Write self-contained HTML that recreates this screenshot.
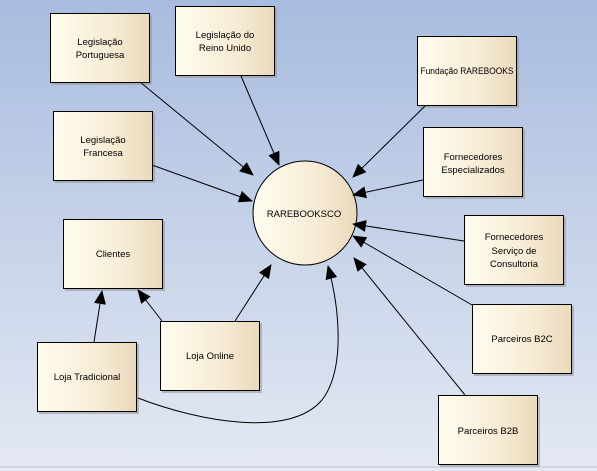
<!DOCTYPE html>
<html><head><style>
html,body{margin:0;padding:0;}
body{width:597px;height:471px;overflow:hidden;}
svg{display:block;}
text{font-family:"Liberation Sans",sans-serif;font-size:9.5px;fill:#000;text-anchor:middle;}
</style></head><body>
<svg width="597" height="471" viewBox="0 0 597 471" xmlns="http://www.w3.org/2000/svg">
<defs>
<linearGradient id="bg" x1="0" y1="0" x2="0" y2="1">
<stop offset="0" stop-color="#a8bcdf"/><stop offset="1" stop-color="#e4e9f3"/>
</linearGradient>
<linearGradient id="bx" x1="0" y1="0" x2="1" y2="0">
<stop offset="0" stop-color="#fffcee"/><stop offset="0.6" stop-color="#f7ecd6"/><stop offset="1" stop-color="#ead9bb"/>
</linearGradient>
<marker id="ar" markerWidth="14" markerHeight="12" refX="13" refY="6" orient="auto" markerUnits="userSpaceOnUse">
<path d="M0,0 L14,6 L0,12 Z" fill="#000"/>
</marker>
</defs>
<rect width="597" height="471" fill="url(#bg)"/>
<line x1="0" y1="467" x2="597" y2="467" stroke="#b8c4dc"/>
<g fill="#9a9a9a" opacity="0.6">
<rect x="52" y="15" width="100" height="70"/><rect x="177" y="8" width="100" height="70"/>
<rect x="55" y="113" width="100" height="70"/><rect x="65" y="221" width="100" height="70"/>
<rect x="419" y="38" width="100" height="70"/><rect x="425" y="129" width="100" height="70"/>
<rect x="466" y="217" width="100" height="70"/><rect x="474" y="306" width="100" height="70"/>
<rect x="440" y="397" width="100" height="70"/><rect x="162" y="323" width="100" height="70"/>
<rect x="39" y="344" width="100" height="70"/>
</g>
<g fill="url(#bx)" stroke="#000" stroke-width="1">
<rect x="50.5" y="13.5" width="99" height="69"/>
<rect x="175.5" y="6.5" width="99" height="69"/>
<rect x="53.5" y="111.5" width="99" height="69"/>
<rect x="63.5" y="219.5" width="99" height="69"/>
<rect x="417.5" y="36.5" width="99" height="69"/>
<rect x="423.5" y="127.5" width="99" height="69"/>
<rect x="464.5" y="215.5" width="99" height="69"/>
<rect x="472.5" y="304.5" width="99" height="69"/>
<rect x="438.5" y="395.5" width="99" height="69"/>
<rect x="160.5" y="321.5" width="99" height="69"/>
<rect x="37.5" y="342.5" width="99" height="69"/>
</g>
<circle cx="305" cy="213" r="52" fill="url(#bx)" stroke="#000"/>
<g stroke="#000" stroke-width="1" fill="none" marker-end="url(#ar)">
<line x1="140" y1="82" x2="253" y2="175"/>
<line x1="241" y1="76" x2="279" y2="165"/>
<line x1="152" y1="165" x2="252" y2="201"/>
<line x1="425" y1="106" x2="353" y2="177"/>
<line x1="423" y1="180" x2="353" y2="195"/>
<line x1="464" y1="241" x2="353" y2="224"/>
<line x1="472" y1="305" x2="353" y2="236"/>
<line x1="465" y1="395" x2="354" y2="258"/>
<line x1="235" y1="321" x2="271" y2="265"/>
<line x1="162" y1="321" x2="138" y2="290"/>
<line x1="94" y1="342" x2="102" y2="291"/>
<path d="M138,398 C200,422 290,438 322,400 C345,370 340,310 328,266"/>
</g>
<text x="100" y="45">Legislação</text><text x="100" y="58">Portuguesa</text>
<text x="225" y="38">Legislação do</text><text x="225" y="51">Reino Unido</text>
<text x="103" y="143">Legislação</text><text x="103" y="156">Francesa</text>
<text x="113" y="257">Clientes</text>
<text x="467" y="74" textLength="93" lengthAdjust="spacingAndGlyphs">Fundação RAREBOOKS</text>
<text x="473" y="160">Fornecedores</text><text x="473" y="173">Especializados</text>
<text x="514" y="240">Fornecedores</text><text x="514" y="254">Serviço de</text><text x="514" y="267">Consultoria</text>
<text x="522" y="342">Parceiros B2C</text>
<text x="488" y="434">Parceiros B2B</text>
<text x="210" y="359">Loja Online</text>
<text x="87" y="380">Loja Tradicional</text>
<text x="304" y="217">RAREBOOKSCO</text>
</svg>
</body></html>
